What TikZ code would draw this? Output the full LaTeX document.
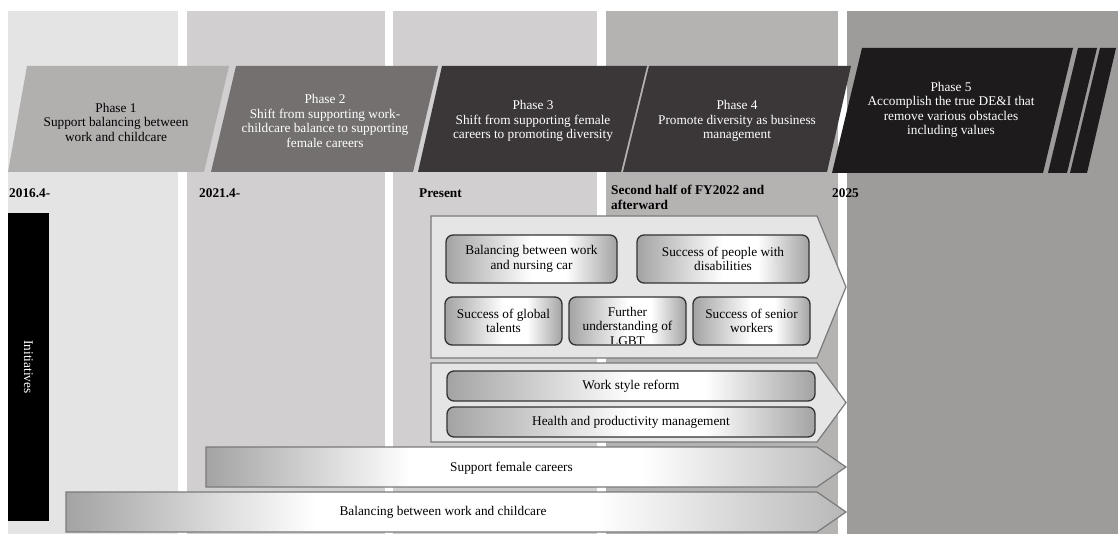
\documentclass[tikz,border=0pt]{standalone}
\usepackage{fontspec}
\setmainfont{Liberation Serif}
\usepackage{tikz}
\usetikzlibrary{positioning}
\usepackage{xcolor}
\definecolor{colA}{RGB}{229,228,229}
\definecolor{colB}{RGB}{209,207,208}
\definecolor{colC}{RGB}{181,178,178}
\definecolor{colD}{RGB}{158,155,155}
\definecolor{ph1}{RGB}{178,175,175}
\definecolor{ph2}{RGB}{116,112,112}
\definecolor{ph3}{RGB}{59,55,56}
\definecolor{ph5}{RGB}{29,27,28}
\definecolor{grpfill}{RGB}{230,229,229}
\definecolor{grpdraw}{RGB}{122,122,122}
\definecolor{boxdraw}{RGB}{51,51,51}
\definecolor{shdark}{RGB}{163,163,163}
\definecolor{shlight}{RGB}{184,184,184}
\pgfdeclarehorizontalshading{barshade}{100bp}{color(0bp)=(shdark); color(25bp)=(shdark); color(41bp)=(white); color(59bp)=(white); color(75bp)=(shlight); color(100bp)=(shlight)}
\pgfdeclarehorizontalshading{itemshade}{100bp}{color(0bp)=(shdark); color(25bp)=(shdark); color(50bp)=(white); color(60bp)=(white); color(75bp)=(shdark); color(100bp)=(shdark)}

\begin{document}
\begin{tikzpicture}[x=1pt, y=-1pt,
  txt/.style={font=\fontsize{13.3}{14.5}\selectfont, align=center, inner sep=0pt},
  phasetxt/.style={txt, text=white},
  datetxt/.style={font=\fontsize{13.3}{15}\selectfont\bfseries, align=left, anchor=west, inner sep=0pt},
  grp/.style={fill=grpfill, draw=grpdraw, line width=1.2pt},
  bar/.style={shade, shading=barshade, draw=grpdraw, line width=1.2pt},
  item/.style={txt, draw=boxdraw, line width=1.3pt, rounded corners=7pt, shade, shading=itemshade,
               minimum height=48pt},
  wide/.style={item, minimum width=368pt, minimum height=30pt},
]
\fill[white] (0,0) rectangle (1118,534);
\useasboundingbox (0,0) rectangle (1118,534);

\fill[colA] (8,11) rectangle (178,534);
\fill[colB] (187,11) rectangle (385,534);
\fill[colB] (393,11) rectangle (597,534);
\fill[colC] (606,11) rectangle (838,534);
\fill[colD] (847,11) rectangle (1118,534);

% phases
\fill[ph1] (27,66) -- (229,66) -- (204,172) -- (8,172) -- cycle;
\fill[ph2] (236,66) -- (438,66) -- (413,172) -- (211,172) -- cycle;
\fill[ph3] (442,66) -- (647,66) -- (621,172) -- (418,172) -- cycle;
\fill[ph3] (649,66) -- (851,66) -- (827,172) -- (623,172) -- cycle;
\fill[ph5] (862,48) -- (1073,48) -- (1043,173) -- (832,173) -- cycle;
\fill[ph5] (1078,48) -- (1097,48) -- (1067,173) -- (1048,173) -- cycle;
\fill[ph5] (1100,48) -- (1116,48) -- (1087,173) -- (1070,173) -- cycle;

\node[txt] (p1) at (116,122) {Phase 1\\Support balancing between\\work and childcare};
\node[phasetxt] (p2) at (325,121) {Phase 2\\Shift from supporting work-\\childcare balance to supporting\\female careers};
\node[phasetxt] (p3) at (533,121) {Phase 3\\Shift from supporting female\\careers to promoting diversity};
\node[phasetxt] (p4) at (737,121) {Phase 4\\Promote diversity as business\\management};
\node[phasetxt] (p5) at (951,110) {Phase 5\\Accomplish the true DE\&I that\\remove various obstacles\\including values};

\node[datetxt] (d1) at (9,193) {2016.4-};
\node[datetxt] (d2) at (199,193) {2021.4-};
\node[datetxt] (d3) at (419,193) {Present};
\node[datetxt, anchor=north west] (d4) at (611,185) {Second half of FY2022 and\\afterward};
\node[datetxt] (d5) at (832,193) {2025};

\node[fill=black, text=white, font=\fontsize{13.3}{14.5}\selectfont, rotate=-90,
      minimum width=308pt, minimum height=41pt, inner sep=0pt] (init) at (28.5,367) {Initiatives};

% initiatives
\path[grp] (431,216) -- (817,216) -- (846,287) -- (817,358) -- (431,358) -- cycle;
\path[grp] (431,363) -- (817,363) -- (846,402.5) -- (817,442) -- (431,442) -- cycle;

\node[item, minimum width=171pt] (nursing) at (531.5,259) {Balancing between work\\and nursing car};
\node[item, minimum width=172pt] (disab) at (723,259) {Success of people with\\disabilities};
\node[item, minimum width=117pt] (global) at (503.5,321) {Success of global\\talents};
\node[item, minimum width=117pt] (lgbt) at (627.5,321) {};
\begin{scope}
  \clip[rounded corners=6pt] ([shift={(1.5pt,-2pt)}]lgbt.north west) rectangle ([shift={(-1.5pt,2pt)}]lgbt.south east);
  \node[txt] (lgbttxt) at (627.5,326) {Further\\understanding of\\LGBT};
\end{scope}
\node[item, minimum width=117pt] (senior) at (751.5,321) {Success of senior\\workers};

\node[wide] (reform) at (631,386) {Work style reform};
\node[wide] (health) at (631,422) {Health and productivity management};

\path[bar] (206,447) -- (817,447) -- (846,467) -- (817,487) -- (206,487) -- cycle;
\node[txt] (female) at (511.5,468) {Support female careers};
\path[bar] (66,492) -- (817,492) -- (846,512) -- (817,532) -- (66,532) -- cycle;
\node[txt] (childcare) at (443,512) {Balancing between work and childcare};
\end{tikzpicture}
\end{document}
